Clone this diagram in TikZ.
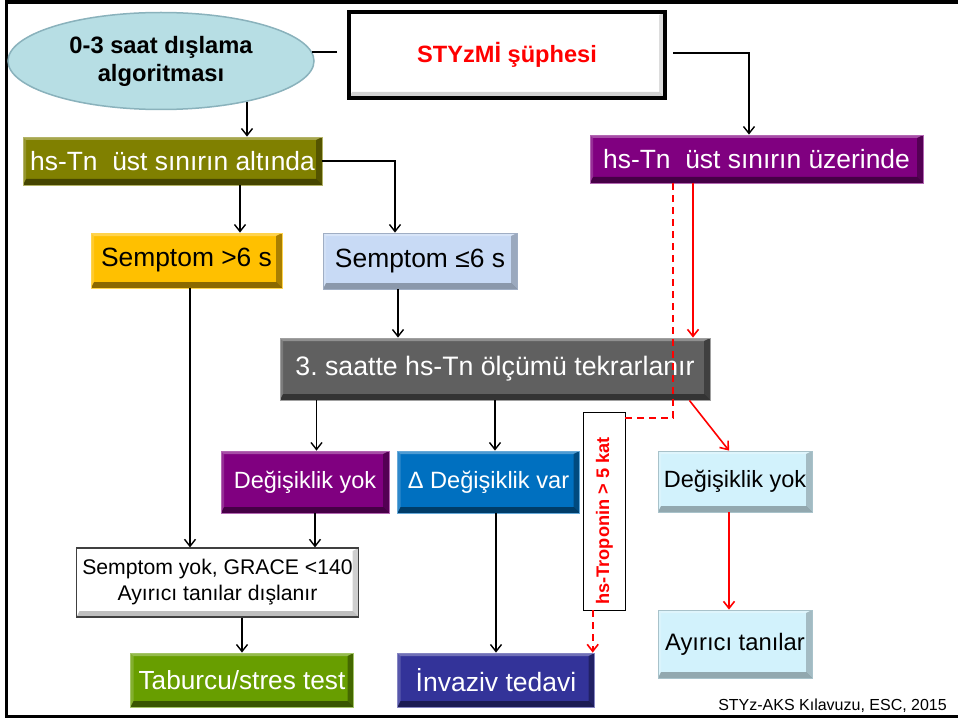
\documentclass[tikz,border=0pt]{standalone}
\usepackage{fontspec}
\setmainfont{Liberation Sans}
\usetikzlibrary{shapes.geometric,arrows.meta}
\frenchspacing

\definecolor{ellFill}{RGB}{183,222,228}
\definecolor{ellLine}{RGB}{138,178,188}
\definecolor{oliveBox}{RGB}{128,128,0}
\definecolor{purpleBox}{RGB}{128,0,128}
\definecolor{goldBox}{RGB}{255,192,0}
\definecolor{skyBox}{RGB}{200,218,245}
\definecolor{grayBox}{RGB}{96,96,96}
\definecolor{blueBox}{RGB}{0,112,192}
\definecolor{greenBox}{RGB}{104,158,0}
\definecolor{navyBox}{RGB}{51,51,153}
\definecolor{iceBox}{RGB}{210,242,252}
\definecolor{redLine}{RGB}{255,0,0}

\tikzset{
  fs/.style 2 args={font=\fontsize{#1}{#2}\selectfont},
  % raised (bevelled) look: light top/left rims, dark bottom/right rims
  bevel/.style={path picture={
    \fill[white,opacity=0.30] (path picture bounding box.north west) -- (path picture bounding box.north east)
      -- ([shift={(-6pt,-3pt)}]path picture bounding box.north east) -- ([shift={(3pt,-3pt)}]path picture bounding box.north west) -- cycle;
    \fill[white,opacity=0.18] (path picture bounding box.north west) -- ([shift={(3pt,-3pt)}]path picture bounding box.north west)
      -- ([shift={(3pt,6pt)}]path picture bounding box.south west) -- (path picture bounding box.south west) -- cycle;
    \fill[black,opacity=#1] (path picture bounding box.south west) -- ([shift={(3pt,6pt)}]path picture bounding box.south west)
      -- ([shift={(-6pt,6pt)}]path picture bounding box.south east) -- (path picture bounding box.south east) -- cycle;
    \fill[black,opacity=0.75*#1] (path picture bounding box.north east) -- ([shift={(-6pt,-3pt)}]path picture bounding box.north east)
      -- ([shift={(-6pt,6pt)}]path picture bounding box.south east) -- (path picture bounding box.south east) -- cycle;
  }},
  bevel/.default=0.45,
  box/.style={rectangle, inner sep=0pt, text=white, line width=0.8pt, bevel},
  arr/.style={draw=black, line width=1.4pt, -{Straight Barb[length=7pt,width=11pt]}},
  plain/.style={draw=black, line width=1.4pt},
  redArr/.style={draw=redLine, line width=1.6pt, -{Straight Barb[length=7pt,width=11pt]}},
  redDash/.style={draw=redLine, line width=1.6pt, dash pattern=on 7pt off 5pt},
}

\begin{document}
\begin{tikzpicture}[x=1pt, y=-1pt]
\useasboundingbox[fill=white] (0,0) rectangle (958,722);

% outer frame (its right side lies beyond the page)
\draw[line width=3.5pt] (980,2) -| (6.5,716.5) -- (980,716.5);

% start nodes
\node[ellipse, fill=ellFill, draw=ellLine, line width=1.5pt, minimum width=306pt, minimum height=97pt,
      inner sep=0pt, align=center, font=\bfseries\fontsize{23.7pt}{28pt}\selectfont] (ell) at (161,61)
      {0-3 saat dışlama\\algoritması};
\node[rectangle, draw=black, line width=4pt, fill=white, bevel=0.18, minimum width=316pt, minimum height=86pt,
      inner sep=0pt, text=redLine, font=\bfseries\fontsize{23.6pt}{28pt}\selectfont] (sus) at (507,55)
      {STYzMİ şüphesi};

% first hs-Tn result
\node[box, fill=oliveBox, draw=oliveBox!60!white, minimum width=299pt, minimum height=48pt, fs={26.4pt}{30pt}] (alt)
      at (172.5,161) {hs-Tn~~üst sınırın altında};
\node[box, fill=purpleBox, draw=purpleBox!60!white, minimum width=333pt, minimum height=48pt, fs={26.4pt}{30pt}] (ust)
      at (756.5,159) {hs-Tn~~üst sınırın üzerinde};

% symptom onset
\node[box, fill=goldBox, draw=goldBox!70!white, text=black, minimum width=191pt, minimum height=55pt, fs={26.4pt}{30pt}] (s6a)
      at (186.5,260.5) {Semptom >6 s};
\node[box, fill=skyBox, draw=skyBox!80!black, text=black, bevel=0.30, minimum width=194pt, minimum height=56pt, fs={26.4pt}{30pt}] (s6b)
      at (420,261) {Semptom ≤6 s};

% repeat measurement
\node[box, fill=grayBox, draw=grayBox!60!white, minimum width=430pt, minimum height=62pt, fs={26.7pt}{30pt}] (tek)
      at (495,369) {3. saatte hs-Tn ölçümü tekrarlanır};

% change / no change
\node[box, fill=purpleBox, draw=purpleBox!60!white, minimum width=168pt, minimum height=62pt, fs={23.5pt}{28pt}] (dy1)
      at (305,482) {Değişiklik yok};
\node[box, fill=blueBox, draw=blueBox!60!white, minimum width=182pt, minimum height=62pt, fs={23.6pt}{28pt}] (dv)
      at (488.5,482) {Δ Değişiklik var};
\node[box, fill=iceBox, draw=iceBox!80!black, text=black, bevel=0.30, minimum width=154pt, minimum height=61pt, fs={23.5pt}{28pt}] (dy2)
      at (735,481.5) {Değişiklik yok};

% rule-out
\node[box, fill=white, draw=black!75, line width=1.2pt, text=black, bevel=0.25, minimum width=282pt, minimum height=69pt, align=center,
      fs={21.2pt}{26pt}] (gr) at (217.5,582.5) {Semptom yok, GRACE <140\\Ayırıcı tanılar dışlanır};
\node[box, fill=iceBox, draw=iceBox!80!black, text=black, bevel=0.30, minimum width=154pt, minimum height=68pt, fs={23.8pt}{28pt}] (ayr)
      at (735,644) {Ayırıcı tanılar};

% outcomes
\node[box, fill=greenBox, draw=greenBox!60!white, minimum width=223pt, minimum height=54pt, fs={26.2pt}{30pt}] (tab)
      at (242,680) {Taburcu/stres test};
\node[box, fill=navyBox, draw=navyBox!60!white, minimum width=197pt, minimum height=54pt, fs={26.5pt}{30pt}] (inv)
      at (496,680) {İnvaziv tedavi};

% troponin label box
\node[draw=black, line width=0.8pt, fill=white, minimum width=42pt, minimum height=198pt, inner sep=0pt] (tro) at (604,511) {};
\node[rotate=90, text=redLine, inner sep=0pt, font=\bfseries\fontsize{18.2pt}{20pt}\selectfont] (trot) at (604.5,521)
      {hs-Troponin > 5 kat};

% source
\node[anchor=base east, inner sep=0pt, fs={16pt}{18pt}] (src) at (947,710) {STYz-AKS Kılavuzu, ESC, 2015};

% black connectors
\draw[plain] ([xshift=-10pt,yshift=3pt]sus.west) -- ([xshift=-2.5pt,yshift=9pt]ell.east);
\draw[arr] ([xshift=86pt,yshift=8pt]ell.south) -- ([xshift=86pt]ell.south |- alt.north);
\draw[arr] ([xshift=6pt,yshift=2pt]sus.east) -| ([xshift=-7.5pt]ust.north);
\draw[arr] ([xshift=67.5pt]alt.south) -- ([xshift=67.5pt]alt.south |- s6a.north);
\draw[arr] (alt.east) -| ([xshift=-25pt]s6b.north);
\draw[arr] ([xshift=3.5pt]s6a.south) -- ([xshift=3.5pt]s6a.south |- gr.north);
\draw[arr] ([xshift=-22pt]s6b.south) -- ([xshift=-22pt]s6b.south |- tek.north);
\draw[arr] ([xshift=-178.5pt]tek.south) -- ([xshift=-178.5pt]tek.south |- dy1.north);
\draw[arr] (tek.south) -- (tek.south |- dv.north);
\draw[arr] ([xshift=10pt]dy1.south) -- ([xshift=10pt]dy1.south |- gr.north);
\draw[arr] (gr.south -| tab.north) -- (tab.north);
\draw[arr] (dv.south -| inv.north) -- (inv.north);

% red connectors
\draw[redArr] ([xshift=-63.5pt]ust.south) -- ([xshift=-63.5pt]ust.south |- tek.north);
\draw[redArr] ([xshift=-21pt]tek.south east) -- ([xshift=-6pt]dy2.north);
\draw[redArr] ([xshift=-6pt]dy2.south) -- ([xshift=-6pt]dy2.south |- ayr.north);
\draw[redDash] ([xshift=-83.5pt]ust.south) |- ([yshift=-6.5pt]tro.north east);
\draw[redDash, -{Straight Barb[length=7pt,width=11pt]}] ([xshift=-11.3pt]tro.south) -- ([xshift=-11.3pt]tro.south |- inv.north);
\end{tikzpicture}
\end{document}
